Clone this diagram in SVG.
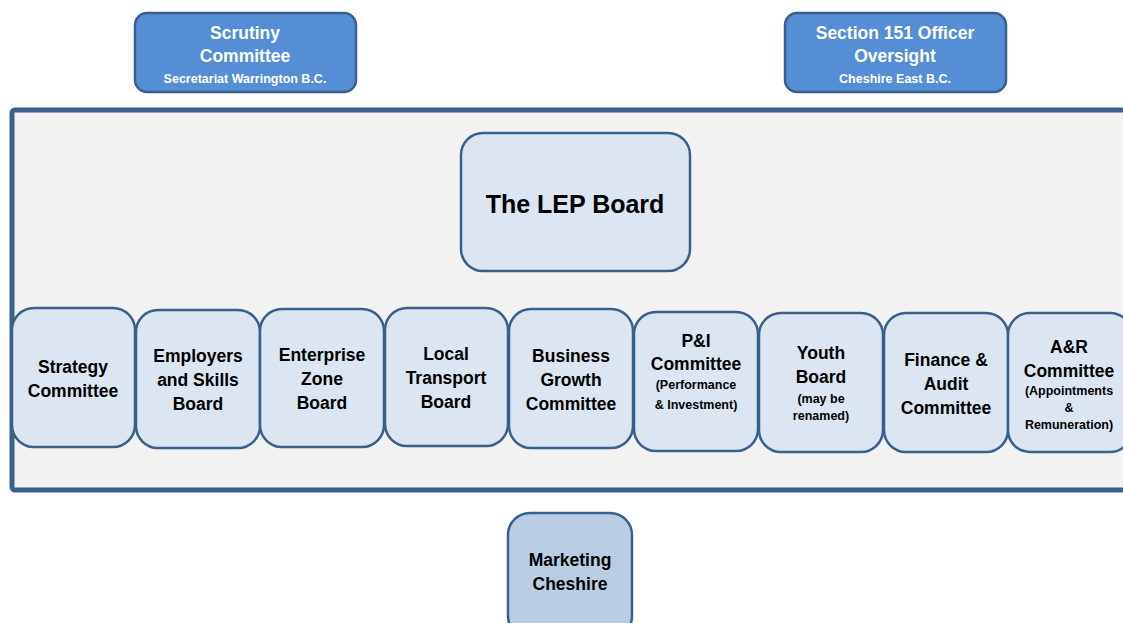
<svg xmlns="http://www.w3.org/2000/svg" width="1123" height="623" viewBox="0 0 1123 623">
<style>
.frame{fill:#F2F2F2;stroke:#3A5F8B;stroke-width:5}
.top{fill:#558ED5;stroke:#3A5F8B;stroke-width:2.5}
.box{fill:#DCE6F2;stroke:#3A5F8B;stroke-width:2.5}
.mk{fill:#B9CDE5;stroke:#3A5F8B;stroke-width:2.5}
text{font-family:"Liberation Sans",Arial,sans-serif;font-weight:bold;text-anchor:middle}
.w{fill:#FFFFFF}
.k{fill:#000000}
.m{font-size:17.5px}
.s{font-size:12.5px}
.tl{font-size:12.5px}
.big{font-size:25px}
</style>
<rect class="frame" x="12" y="110" width="1130" height="380" rx="3"/>
<g id="connectors"></g>
<g id="scrutiny">
<rect class="top" x="135" y="13" width="221" height="79" rx="12"/>
<text class="w m" x="245" y="39">Scrutiny</text>
<text class="w m" x="245" y="62">Committee</text>
<text class="w tl" x="245" y="83">Secretariat Warrington B.C.</text>
</g>
<g id="section151">
<rect class="top" x="785" y="13" width="221" height="79" rx="12"/>
<text class="w m" x="895" y="39">Section 151 Officer</text>
<text class="w m" x="895" y="62">Oversight</text>
<text class="w tl" x="895" y="83">Cheshire East B.C.</text>
</g>
<g id="lep">
<rect class="box" x="461" y="133" width="229" height="138" rx="22"/>
<text class="k big" x="575" y="213">The LEP Board</text>
</g>
<g id="strategy">
<rect class="box" x="12" y="308" width="123" height="139" rx="22"/>
<text class="k m" x="73" y="373">Strategy</text>
<text class="k m" x="73" y="397">Committee</text>
</g>
<g id="employers">
<rect class="box" x="136" y="310" width="124" height="138" rx="22"/>
<text class="k m" x="198" y="362">Employers</text>
<text class="k m" x="198" y="386">and Skills</text>
<text class="k m" x="198" y="410">Board</text>
</g>
<g id="enterprise">
<rect class="box" x="260" y="309" width="124" height="138" rx="22"/>
<text class="k m" x="322" y="361">Enterprise</text>
<text class="k m" x="322" y="385">Zone</text>
<text class="k m" x="322" y="409">Board</text>
</g>
<g id="transport">
<rect class="box" x="385" y="308" width="123" height="138" rx="22"/>
<text class="k m" x="446" y="360">Local</text>
<text class="k m" x="446" y="384">Transport</text>
<text class="k m" x="446" y="408">Board</text>
</g>
<g id="business">
<rect class="box" x="509" y="309" width="124" height="139" rx="22"/>
<text class="k m" x="571" y="362">Business</text>
<text class="k m" x="571" y="386">Growth</text>
<text class="k m" x="571" y="410">Committee</text>
</g>
<g id="pi">
<rect class="box" x="634" y="312" width="124" height="139" rx="22"/>
<text class="k m" x="696" y="347">P&amp;I</text>
<text class="k m" x="696" y="370">Committee</text>
<text class="k s" x="696" y="389">(Performance</text>
<text class="k s" x="696" y="409">&amp; Investment)</text>
</g>
<g id="youth">
<rect class="box" x="759" y="313" width="124" height="139" rx="22"/>
<text class="k m" x="821" y="359">Youth</text>
<text class="k m" x="821" y="383">Board</text>
<text class="k s" x="821" y="403">(may be</text>
<text class="k s" x="821" y="420">renamed)</text>
</g>
<g id="finance">
<rect class="box" x="884" y="313" width="124" height="139" rx="22"/>
<text class="k m" x="946" y="366">Finance &amp;</text>
<text class="k m" x="946" y="390">Audit</text>
<text class="k m" x="946" y="414">Committee</text>
</g>
<g id="ar">
<rect class="box" x="1008" y="313" width="124" height="139" rx="22"/>
<text class="k m" x="1069" y="353">A&amp;R</text>
<text class="k m" x="1069" y="377">Committee</text>
<text class="k s" x="1069" y="395">(Appointments</text>
<text class="k s" x="1069" y="412">&amp;</text>
<text class="k s" x="1069" y="429">Remuneration)</text>
</g>
<g id="marketing">
<rect class="mk" x="508" y="513" width="124" height="125" rx="22"/>
<text class="k m" x="570" y="566">Marketing</text>
<text class="k m" x="570" y="590">Cheshire</text>
</g>
</svg>
